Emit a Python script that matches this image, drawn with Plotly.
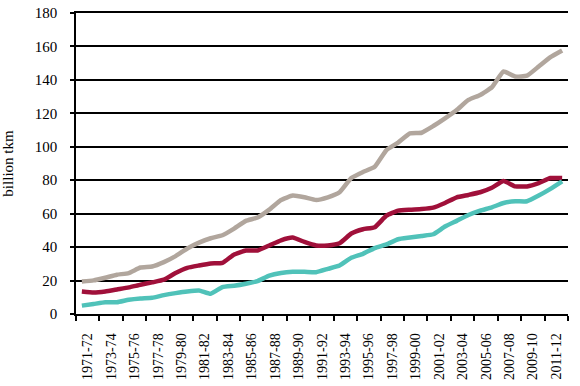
import plotly.graph_objects as go

years = [f"{1971+i}-{str(1972+i)[-2:]}" for i in range(42)]
tick_labels = [f"{1971+2*k}-{str(1972+2*k)[-2:]}" for k in range(21)]

gray_vals = [19.5, 20.1, 21.7, 23.5, 24.5, 27.8, 28.4, 31.0, 34.6, 39.2,
             42.7, 45.3, 47.1, 51.1, 55.7, 57.7, 62.4, 68.2, 70.8, 69.8,
             68.2, 69.8, 72.8, 81.3, 84.9, 88.0, 98.0, 102.5, 108.0, 108.4,
             112.4, 117.0, 122.0, 128.0, 131.0, 135.6, 145.0, 142.0, 142.5, 148.0,
             153.6, 157.6]
red_vals = [13.5, 12.9, 13.5, 14.7, 15.9, 17.5, 18.9, 20.5, 24.5, 27.6,
            29.0, 30.2, 30.6, 35.6, 38.0, 38.0, 41.0, 44.1, 45.7, 43.1,
            41.0, 41.0, 42.3, 48.1, 50.7, 51.9, 58.8, 61.8, 62.4, 62.8,
            63.6, 66.4, 69.8, 71.2, 72.8, 75.5, 79.5, 76.3, 76.3, 78.3,
            81.3, 81.3]
teal_vals = [5.0, 6.0, 7.0, 7.0, 8.5, 9.3, 9.7, 11.3, 12.5, 13.5,
             14.1, 12.1, 16.1, 16.9, 18.1, 19.7, 22.9, 24.5, 25.2, 25.2,
             25.0, 27.0, 29.0, 33.6, 36.0, 39.4, 41.6, 44.7, 45.7, 46.7,
             47.7, 52.3, 55.7, 59.2, 61.8, 63.8, 66.4, 67.4, 67.4, 70.8,
             74.8, 79.3]

xpos = [i + 0.5 for i in range(len(years))]

fig = go.Figure()
for vals, col in [(gray_vals, "#B1A69D"), (red_vals, "#A0103A"), (teal_vals, "#50C2B9")]:
    fig.add_trace(go.Scatter(x=xpos, y=vals, mode="lines", text=years,
                             line=dict(color=col, width=4.5, shape="spline", smoothing=0.4),
                             showlegend=False))

font = dict(family="Liberation Serif", size=15, color="black")
xfont = dict(family="Liberation Serif", size=14, color="black")
fig.update_layout(
    width=580, height=386,
    margin=dict(l=76, r=12, t=13, b=72),
    paper_bgcolor="white", plot_bgcolor="white",
    font=font,
    xaxis=dict(range=[0, 42], tickmode="array", tickvals=[2*k + 1 for k in range(21)],
               ticktext=tick_labels, tickangle=-90, ticks="", showgrid=False,
               showline=True, mirror=True, linecolor="black", linewidth=1.5, zeroline=False,
               tickfont=xfont, ticklabelstandoff=12, automargin=False,
               minor=dict(tickmode="linear", tick0=0, dtick=2, ticks="outside",
                          ticklen=5, tickwidth=1.5, tickcolor="black", showgrid=False)),
    yaxis=dict(range=[0, 180], tickvals=list(range(0, 181, 20)), showgrid=True,
               gridcolor="black", gridwidth=1.5, showline=True, linecolor="black",
               linewidth=1.5, ticks="outside", ticklen=4, tickwidth=1.5, tickcolor="black",
               zeroline=False, tickfont=font, ticklabelstandoff=10, automargin=False,
               title=dict(text="billion tkm", font=font, standoff=28)),
)
fig.write_html("out.html", config={"displayModeBar": False},
               post_script="document.body.style.margin='0';document.body.style.overflow='hidden';")
